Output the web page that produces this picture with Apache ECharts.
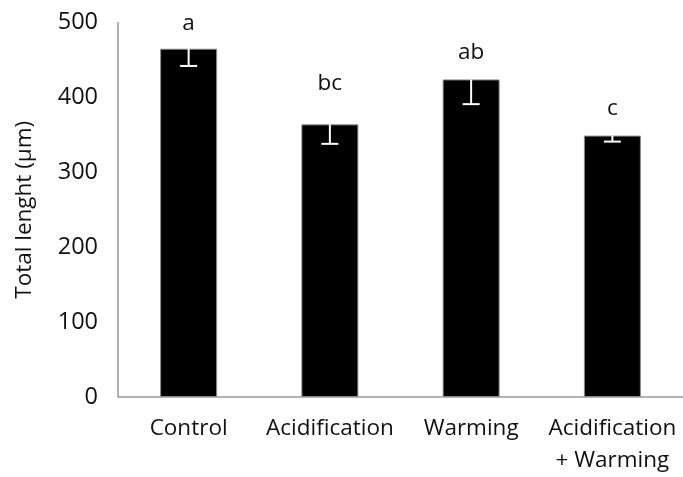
<!DOCTYPE html>
<html>
<head>
<meta charset="utf-8">
<script src="https://cdn.jsdelivr.net/npm/echarts@6/dist/echarts.min.js"></script>
<style>
  html, body { margin: 0; padding: 0; background: #fff; }
  #chart { width: 683px; height: 477px; }
</style>
</head>
<body>
<div id="chart"></div>
<script>
// Treatments and measured total length (mean ± SE, µm)
const categories = ['Control', 'Acidification', 'Warming', 'Acidification\n+ Warming'];
const meanLength = [465, 364, 424, 349];
const stdError = [23, 26, 33, 8];
// Significance group letters and the height at which each is written
const groupLetters = ['a', 'bc', 'ab', 'c'];
const letterHeight = [498, 419, 460, 385];
const yTicks = { min: 0, max: 500, interval: 100 };

const FONT = '"Open Sans", sans-serif';
const TEXT = '#111';

const chart = echarts.init(document.getElementById('chart'));

chart.setOption({
  animation: false,
  grid: { left: 118, right: -5, top: 22.5, bottom: 77 },
  xAxis: {
    type: 'category',
    data: categories,
    axisLine: { lineStyle: { color: '#9a9a9a', width: 1.5 } },
    axisTick: { show: false },
    axisLabel: {
      color: TEXT, fontFamily: FONT, fontSize: 22.5, lineHeight: 32,
      margin: 16, interval: 0, align: 'center'
    }
  },
  yAxis: {
    type: 'value',
    min: yTicks.min, max: yTicks.max, interval: yTicks.interval,
    name: 'Total lenght (µm)',
    nameLocation: 'middle',
    nameGap: 82,
    nameTextStyle: { color: TEXT, fontFamily: FONT, fontSize: 22.5 },
    axisLine: { show: true, lineStyle: { color: '#9a9a9a', width: 1.5 } },
    axisTick: { show: false },
    splitLine: { show: false },
    axisLabel: { color: TEXT, fontFamily: FONT, fontSize: 23.5, margin: 20 }
  },
  series: [
    {
      type: 'bar',
      data: meanLength,
      barWidth: 57,
      itemStyle: { color: '#000', borderColor: '#8a8a8a', borderWidth: 1 }
    },
    {
      // downward error bars drawn in white inside each bar
      type: 'custom',
      data: meanLength.map((m, i) => [i, m, stdError[i]]),
      renderItem: function (params, api) {
        const i = api.value(0);
        const top = api.coord([i, api.value(1)]);
        const low = api.coord([i, api.value(1) - api.value(2)]);
        const half = 8.5;
        return {
          type: 'group',
          children: [
            { type: 'line', shape: { x1: top[0], y1: top[1], x2: low[0], y2: low[1] },
              style: { stroke: '#fff', lineWidth: 2 } },
            { type: 'line', shape: { x1: low[0] - half, y1: low[1], x2: low[0] + half, y2: low[1] },
              style: { stroke: '#fff', lineWidth: 2 } }
          ]
        };
      },
      z: 5
    },
    {
      type: 'scatter',
      data: letterHeight.map((h, i) => [i, h]),
      symbolSize: 0,
      itemStyle: { opacity: 1 },
      label: {
        show: true,
        position: 'inside',
        formatter: p => groupLetters[p.dataIndex],
        color: TEXT, fontFamily: FONT, fontSize: 22.5
      },
      z: 6
    }
  ]
});
</script>
</body>
</html>
